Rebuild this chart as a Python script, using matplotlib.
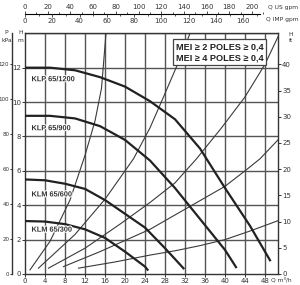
import numpy as np
import matplotlib.pyplot as plt
import matplotlib.patheffects as pe

# pump curves (Q m3/h, H m)
klp1200_q = [0, 5, 10, 15, 20, 25, 30, 35, 40, 45, 49]
klp1200_h = [12.0, 12.0, 11.85, 11.45, 10.9, 10.05, 9.0, 7.3, 5.0, 2.8, 0.8]
klp900_q = [0, 5, 10, 15, 20, 25, 30, 35, 40, 42.2]
klp900_h = [9.2, 9.2, 9.05, 8.6, 7.8, 6.6, 5.0, 3.2, 1.4, 0.4]
klm600_q = [0, 4, 8, 12, 16, 20, 24, 28, 31.7]
klm600_h = [5.5, 5.45, 5.25, 4.95, 4.3, 3.5, 2.7, 1.5, 0.33]
klm300_q = [0, 4, 8, 12, 16, 20, 24, 24.5]
klm300_h = [3.08, 3.05, 2.9, 2.6, 2.1, 1.3, 0.43, 0.25]
pump_labels = ['KLP 65/1200', 'KLP 65/900', 'KLM 65/600', 'KLM 65/300']
label_h = [11.3, 8.45, 4.6, 2.55]

# thin system curves
sysA_q = [1, 5, 9, 12, 14, 15.3, 16.2]
sysA_h = [0.24, 1.9, 4.3, 6.9, 8.9, 10.8, 14.0]
sysB_q = [2.7, 10, 16, 21.7, 25, 28, 31.7, 33]
sysB_h = [0.34, 2.3, 4.35, 6.7, 8.5, 10.5, 13.0, 14.0]
sysC_q = [4.7, 12, 19, 25, 30, 34.3, 39.3, 44, 48, 50.6]
sysC_h = [0.34, 1.5, 2.9, 4.16, 5.3, 6.7, 8.5, 10.3, 12.2, 13.8]
sysD_q = [7.7, 15, 25, 34, 40, 44, 47, 50.6]
sysD_h = [0.43, 1.3, 2.6, 4.1, 5.1, 6.0, 6.7, 7.8]
sysE_q = [10.7, 18, 25, 30, 35, 40, 45, 50.6]
sysE_h = [0.34, 0.7, 1.1, 1.35, 1.65, 2.0, 2.5, 3.1]

q_ticks = list(range(0, 49, 4))
h_ticks = [0, 2, 4, 6, 8, 10, 12]
kpa_ticks = [0, 20, 40, 60, 80, 100, 120]
ft_ticks = [0, 5, 10, 15, 20, 25, 30, 35, 40]
us_ticks = list(range(0, 201, 20))
imp_ticks = list(range(0, 161, 20))

qmax, hmax = 50.6, 14.0
W, H = 300, 285
fig = plt.figure(figsize=(3, 2.85), dpi=100)
ax = fig.add_axes([25/W, 11/H, 253/W, 240.7/H])
ax.set_xlim(0, qmax)
ax.set_ylim(0, hmax)

grid_c = '#555555'
for q in q_ticks[1:]:
    ax.axvline(q, color=grid_c, lw=1.0, zorder=1)
for h in h_ticks[1:] + [14]:
    ax.axhline(h, color=grid_c, lw=1.0, zorder=1)
for s in ax.spines.values():
    s.set_color('#333333')
    s.set_linewidth(1.0)

for q, h in [(sysA_q, sysA_h), (sysB_q, sysB_h), (sysC_q, sysC_h),
             (sysD_q, sysD_h), (sysE_q, sysE_h)]:
    ax.plot(q, h, color='#3a3a3a', lw=0.8, zorder=2)

for q, h in [(klp1200_q, klp1200_h), (klp900_q, klp900_h),
             (klm600_q, klm600_h), (klm300_q, klm300_h)]:
    ax.plot(q, h, color='#222222', lw=1.6, zorder=3)

halo = [pe.withStroke(linewidth=1.5, foreground='white')]
for lab, y in zip(pump_labels, label_h):
    ax.text(1.3, y, lab, fontsize=5.3, fontweight='bold', color='#333333',
            va='center', zorder=4, path_effects=halo,
            family=['Liberation Sans Narrow', 'Liberation Sans', 'DejaVu Sans'])

ax.text(30.1, 12.9, 'MEI \u2265 2 POLES \u2265 0,4\nMEI \u2265 4 POLES \u2265 0,4',
        fontsize=6.6, fontweight='bold', color='#222222', va='center', ha='left',
        linespacing=1.3, zorder=5,
        family=['Liberation Sans Narrow', 'Liberation Sans', 'DejaVu Sans'],
        bbox=dict(boxstyle='square,pad=0.3', fc='white', ec='#444444', lw=0.9))

tick_kw = dict(labelsize=5, length=2, width=0.7, pad=1, colors='#333333')
ax.set_xticks(q_ticks)
ax.set_yticks(h_ticks)
ax.tick_params(**tick_kw)

# right axis in ft
ax_ft = ax.twinx()
ax_ft.set_ylim(0, hmax * 3.281)
ax_ft.set_yticks(ft_ticks)
ax_ft.tick_params(**tick_kw)
for s in ax_ft.spines.values():
    s.set_visible(False)

# left axis in kPa
ax_p = fig.add_axes([12/W, 11/H, 0.0001, 240.7/H])
ax_p.set_ylim(0, hmax * 9.807)
ax_p.set_yticks(kpa_ticks)
ax_p.set_xticks([])
ax_p.tick_params(labelsize=4.0, length=1.5, width=0.7, pad=0.5, colors='#333333')
for k in ['top', 'right', 'bottom']:
    ax_p.spines[k].set_visible(False)
ax_p.spines['left'].set_linewidth(1.0)
ax_p.spines['left'].set_color('#333333')

# top flow scales
ax_us = fig.add_axes([25/W, (H - 14)/H, 253/W, 0.0001])
ax_us.set_xlim(0, qmax * 4.403)
ax_us.set_xticks(us_ticks)
ax_us.set_xticks(range(10, 211, 20), minor=True)
ax_us.set_yticks([])
ax_us.xaxis.tick_top()
ax_us.tick_params(axis='x', which='both', labelsize=5, length=2, width=0.6,
                  pad=1, colors='#333333')
ax_us.tick_params(axis='x', which='minor', length=1.5)
ax_us.patch.set_visible(False)
for k in ['bottom', 'left', 'right']:
    ax_us.spines[k].set_visible(False)
ax_us.spines['top'].set_bounds(0, 207)
ax_us.spines['top'].set_linewidth(0.8)

ax_imp = fig.add_axes([25/W, (H - 14)/H, 253/W, 0.0001])
ax_imp.set_xlim(0, qmax * 3.666)
ax_imp.set_xticks(imp_ticks)
ax_imp.set_xticks(range(10, 171, 20), minor=True)
ax_imp.set_yticks([])
ax_imp.tick_params(axis='x', which='both', labelsize=5, length=2, width=0.6,
                   pad=1, colors='#333333')
ax_imp.tick_params(axis='x', which='minor', length=1.5)
ax_imp.patch.set_visible(False)
for k in ['top', 'left', 'right', 'bottom']:
    ax_imp.spines[k].set_visible(False)

txt = dict(fontsize=4.3, color='#333333')
fig.text(268/W, 1 - 8/H, 'Q US gpm', va='center', **txt)
fig.text(266/W, 1 - 20/H, 'Q IMP gpm', va='center', **txt)
fig.text(271/W, 1 - 280/H, 'Q m\u00b3/h', va='center', **txt)
fig.text(4/W, 1 - 33/H, 'P', va='center', **txt)
fig.text(2/W, 1 - 40/H, 'kPa', va='center', **txt)
fig.text(18/W, 1 - 33/H, 'H', va='center', **txt)
fig.text(18/W, 1 - 40/H, 'm', va='center', **txt)
fig.text(288/W, 1 - 34/H, 'H', va='center', **txt)
fig.text(289/W, 1 - 41/H, 'ft', va='center', **txt)

fig.savefig('out.png', dpi=100)
